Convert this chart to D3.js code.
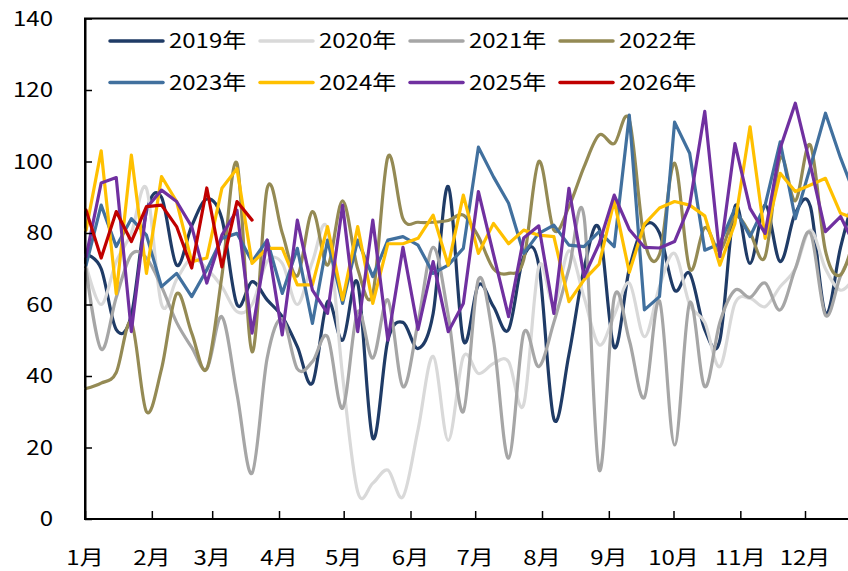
<!DOCTYPE html>
<html><head><meta charset="utf-8">
<script src="https://cdn.jsdelivr.net/npm/d3@7"></script>
<style>
html,body{margin:0;padding:0;background:#fff;}
svg{display:block;}
text{font-family:"Noto Sans CJK SC","Noto Sans",sans-serif;fill:#000;}
</style></head><body>
<svg id="chart" width="848" height="571"></svg>
<script>
const monthLabels = ["1月","2月","3月","4月","5月","6月","7月","8月","9月","10月","11月","12月"];
const monthStartDays = [0,31,59,90,120,151,181,212,243,273,304,334];
const yTicks = [0,20,40,60,80,100,120,140];
const seriesNames = ["2019年","2020年","2021年","2022年","2023年","2024年","2025年","2026年"];
const seriesColors = ["#1F3B66","#D9D9D9","#A6A6A6","#948A54","#41709E","#FFC000","#7030A0","#C00000"];
const seriesSmooth = [true,true,true,true,false,false,false,false];

const y2019 = [74,70,53,57,86,90,71,82,89.5,84,60,66.4,61.3,56.6,48.2,38,60.8,50,66,22.6,50,55,47.7,57.5,93,50,65.5,59.4,53,73.4,71,28,46,70,81.3,48,70,82,80,64,68.7,53,50,87.4,71.5,87.8,72,85.5,87.4,57.5,76,92];
const y2020 = [71,60,72,80,92.5,60,67,73,70,65,58,60,72,71.5,60,72,81,40,7.6,10,13.7,6.2,25,45.5,22,45.4,40.7,43.5,44,32,70.6,60,75,62,48.7,57,66,51,65,74.3,60,55,42.6,60.3,61.7,59.4,65,70,80.8,70,64,68];
const y2021 = [70,47.5,62,74,73,65,55,48,42,56.6,35,12.8,45,56,42,44,51,31,58,45,61.3,37,55,76,57,30,67,50,17,52,42.6,55,70,84.6,13.7,62,50,34,61,20.7,60.5,37,55,64,62,66,58.5,70,80,57,68,76];
const y2022 = [36.5,38,41,55,30,42,63,52,42,68,99.5,46.8,92.5,80,68,86,71,89,70,63,101.3,84,83,83,83.5,85,79,70,68.7,72.5,100,80.8,87.4,98.5,107.4,105,111.6,78,74,99.5,70,81.5,75,84.6,80,73.4,101,89,104.6,75,68.3,80];
const y2023 = [71,87.8,76.2,84,79.4,65,68.7,62.2,69.7,78.5,79.9,72,78,63.1,75.7,54.7,78,60.3,78,67.8,78,79,76.6,68.7,71,75.7,104,95.7,88.3,74.3,79.9,82.2,76.6,76.2,80.4,76.2,113,58.5,62.2,111,102.3,75.2,77,86.9,79,87.8,105.5,84,98.5,113.5,101,90];
const y2024 = [80.8,103,63,101.8,68.7,95.8,88.8,72,73,92.5,98,71.5,75.7,75.7,65.5,65.5,81.8,61.3,81.8,60.3,77,77,78.5,85,71,90.6,74.3,82.7,77,80.8,79.4,79,60.8,66.9,71.3,89,69,82.5,87,88.8,87.8,84.8,71,82.7,109.7,78.5,96.7,91.6,93.4,95.3,85.5,84];
const y2025 = [73.4,94,95.5,52.4,87,92,88.8,81.8,66,79.4,86.4,52,78,51.5,83.6,64,57.5,87.8,52.4,83.6,50,76,53,72,52.4,60.3,91.6,74,56.6,78.6,82,57.5,92.5,67.8,77,90.6,81,76,75.8,77.6,87.8,114,73.4,105,86.9,79.9,103.7,116.3,99,80.4,84.6,76];
const y2026 = [86.4,73,86,77.6,87.4,87.8,81.8,70.2,92.6,70.5,88.8,83.6];

const seriesValues = [y2019,y2020,y2021,y2022,y2023,y2024,y2025,y2026];

const svg = d3.select("#chart");
const plotLeft = 85, plotTop = 18.5, plotBottom = 519;
const x = d3.scaleLinear().domain([0,334]).range([plotLeft,805]);
const y = d3.scaleLinear().domain([0,140]).range([plotBottom,plotTop]);
const dayOf = i => 7*i + 0.5;

svg.append("rect").attr("x",plotLeft).attr("y",plotTop).attr("width",x(365)-plotLeft).attr("height",plotBottom-plotTop)
  .attr("fill","none").attr("stroke","#000").attr("stroke-width",2);

const lineSmooth = d3.line().x((d,i)=>x(dayOf(i))).y(d=>y(d)).curve(d3.curveCardinal.tension(0));
const lineStraight = d3.line().x((d,i)=>x(dayOf(i))).y(d=>y(d));
const g = svg.append("g");
seriesValues.forEach((vals,k)=>{
  g.append("path").attr("d",(seriesSmooth[k]?lineSmooth:lineStraight)(vals))
   .attr("fill","none").attr("stroke",seriesColors[k]).attr("stroke-width",3.2)
   .attr("stroke-linejoin","round").attr("stroke-linecap","round");
});

const yAxis = d3.axisLeft(y).tickValues(yTicks).tickSizeInner(-7).tickSizeOuter(0).tickFormat("");
const ya = svg.append("g").attr("transform",`translate(${plotLeft},0)`).call(yAxis);
ya.select(".domain").attr("stroke","#000").attr("stroke-width",2);
ya.selectAll(".tick line").attr("stroke","#000").attr("stroke-width",1.5);
const xAxis = d3.axisBottom(x).tickValues(monthStartDays).tickSizeInner(-8).tickSizeOuter(0).tickFormat("");
const xa = svg.append("g").attr("transform",`translate(0,${plotBottom})`).call(xAxis);
xa.select(".domain").remove();
xa.append("line").attr("x1",plotLeft).attr("x2",848).attr("y1",0).attr("y2",0).attr("stroke","#000").attr("stroke-width",2);
xa.selectAll(".tick line").attr("stroke","#000").attr("stroke-width",1.5);

const sx = 1.2;
yTicks.forEach(v=>{
  svg.append("text").attr("transform",`translate(53,${y(v)}) scale(${sx},1)`)
    .attr("text-anchor","end").attr("dy","0.35em").attr("font-size",20).text(v);
});
monthLabels.forEach((m,i)=>{
  svg.append("text").attr("transform",`translate(${x(monthStartDays[i])},558) scale(${sx},1)`)
    .attr("text-anchor","middle").attr("dy","0.35em").attr("font-size",20).text(m);
});

const legend = svg.append("g");
seriesNames.forEach((n,k)=>{
  const col = k%4, row = Math.floor(k/4);
  const lx = 110 + col*150, ly = 41 + row*41.5;
  legend.append("line").attr("x1",lx).attr("x2",lx+53).attr("y1",ly).attr("y2",ly)
    .attr("stroke",seriesColors[k]).attr("stroke-width",3.5).attr("stroke-linecap","round");
  legend.append("text").attr("transform",`translate(${lx+59},${ly}) scale(${sx},1)`)
    .attr("dy","0.35em").attr("font-size",20).text(n);
});
</script></body></html>
